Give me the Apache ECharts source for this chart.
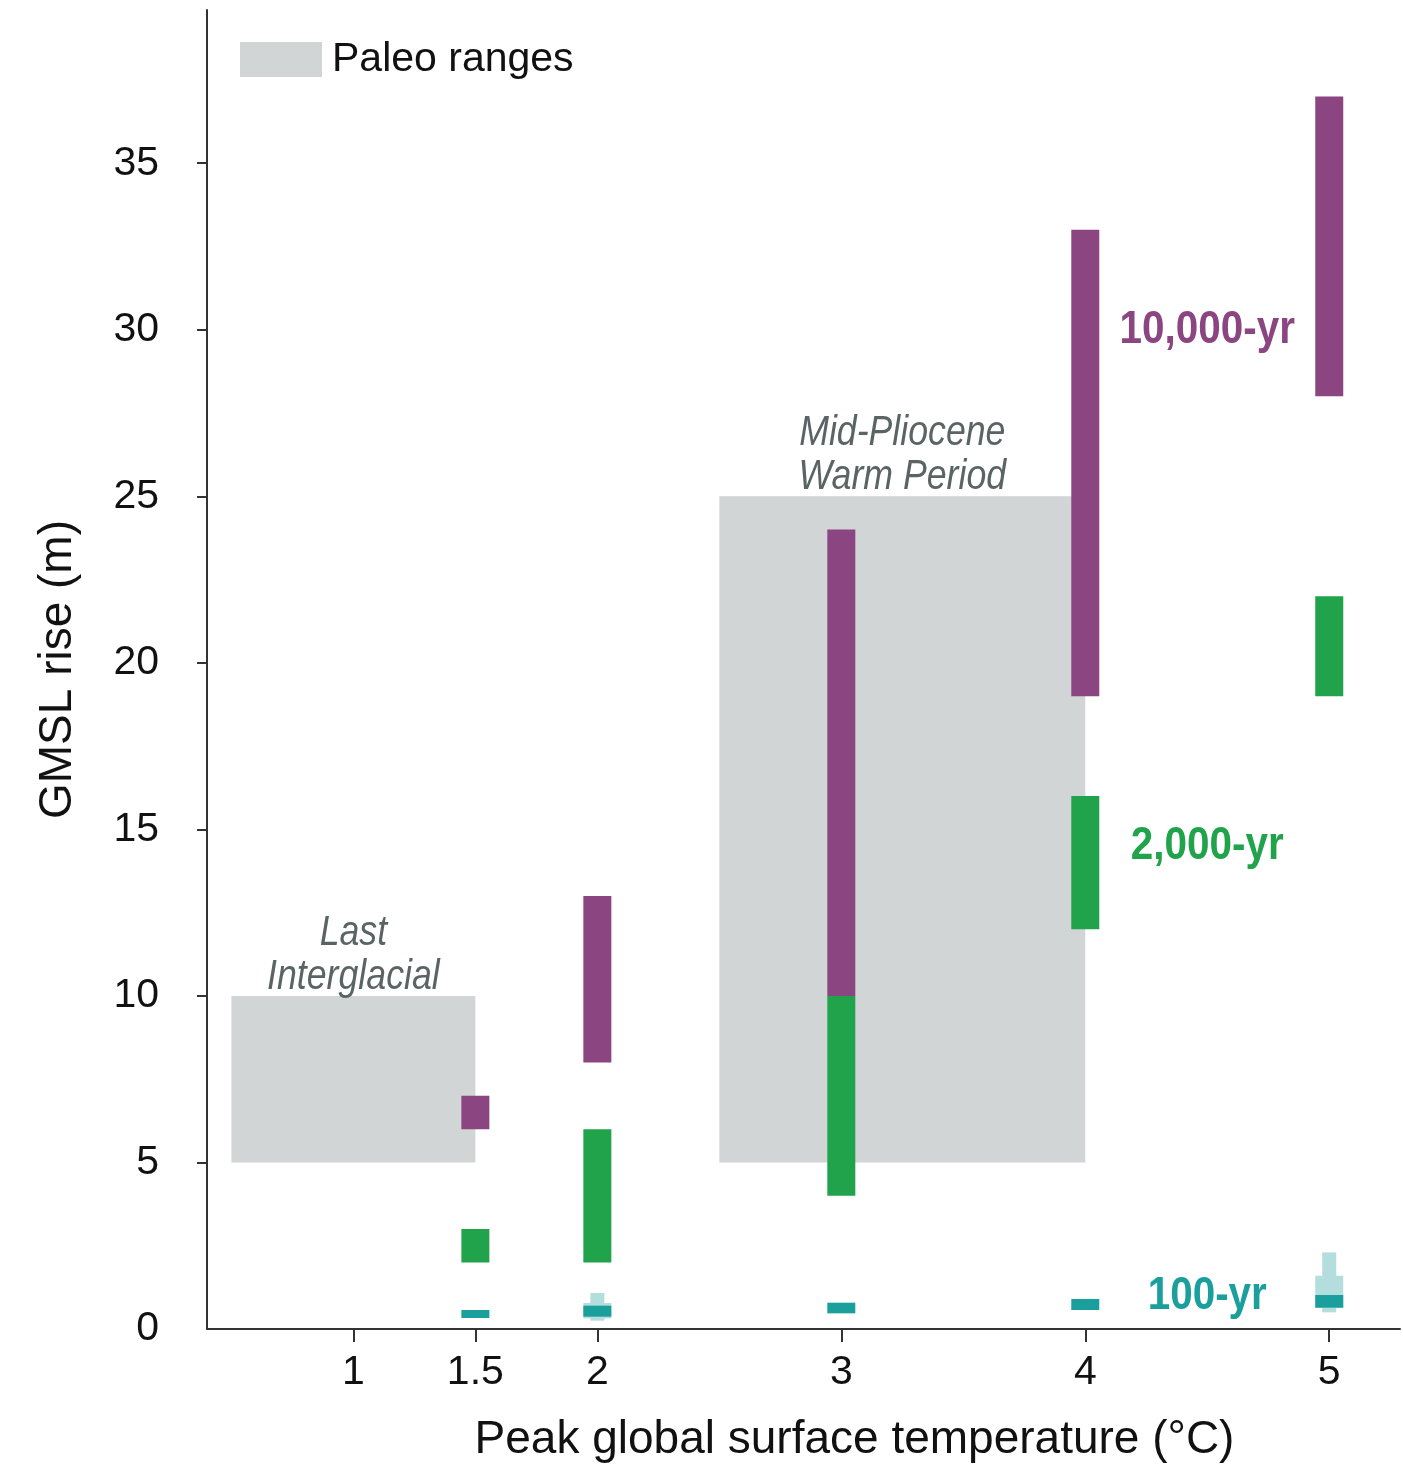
<!DOCTYPE html>
<html>
<head>
<meta charset="utf-8">
<title>GMSL rise vs peak global surface temperature</title>
<script src="https://cdn.jsdelivr.net/npm/echarts@6/dist/echarts.min.js"></script>
<style>
  html, body { margin: 0; padding: 0; background: #ffffff; overflow: hidden; }
  #chart { width: 100vw; height: 100vh; }
</style>
</head>
<body>
<div id="chart"></div>
<script>
// Peak global surface temperature (°C) at which projections are shown
const temps = [1.5, 2, 3, 4, 5];

// GMSL rise ranges (m) [low, high] per temperature
const rise10000yr = [[6, 7], [8, 13], [10, 24], [19, 33], [28, 37]];
const rise2000yr = [[2, 3], [2, 6], [4, 10], [12, 16], [19, 22]];
const rise100yr = [[0.33, 0.57], [0.37, 0.70], [0.47, 0.79], [0.57, 0.90], [0.64, 1.02]];

// Wider uncertainty for the 100-yr horizon (only at 2 and 5 °C)
const wideTemps = [2, 5];
const rise100yrWide = [[0.32, 0.78], [0.63, 1.60]];
const rise100yrOuter = [[0.25, 1.08], [0.50, 2.30]];

// Paleo reference periods
const paleoNames = ['Last\nInterglacial', 'Mid-Pliocene\nWarm Period'];
const paleoTemps = [[0.5, 1.5], [2.5, 4]];
const paleoRise = [[5, 10], [5, 25]];

// Horizon labels: [temperature, GMSL, text]
const horizonLabels = [[4.5, 30.0, '10,000-yr'], [4.5, 14.5, '2,000-yr'], [4.5, 1.0, '100-yr']];

const xTicks = [1, 1.5, 2, 3, 4, 5];
const yLabels = [0, 5, 10, 15, 20, 25, 30, 35];
const yTicks = [5, 10, 15, 20, 25, 30, 35];

const FONT = "'Liberation Sans', Arial, sans-serif";
const PURPLE = '#8b4580';
const GREEN = '#21a34b';
const TEAL = '#1a9f9d';
const TEAL_LIGHT = '#b4dddd';
const PALEO = '#d1d5d6';
const PALEO_TEXT = '#5b6464';
const AXIS = '#333333';
const INK = '#111111';

function rangeData(xs, ranges) {
  return xs.map((t, i) => [t, ranges[i][0], ranges[i][1]]);
}

function rangeBar(color, width) {
  return function (params, api) {
    const top = api.coord([api.value(0), api.value(2)]);
    const bot = api.coord([api.value(0), api.value(1)]);
    return {
      type: 'rect',
      shape: { x: top[0] - width / 2, y: top[1], width: width, height: bot[1] - top[1] },
      style: { fill: color }
    };
  };
}

const chart = echarts.init(document.getElementById('chart'), null, { renderer: 'canvas' });

chart.setOption({
  animation: false,
  backgroundColor: '#ffffff',
  grid: { left: 207, right: 3, top: 10, bottom: 119, containLabel: false },
  legend: {
    left: 240,
    top: 39,
    padding: 0,
    itemWidth: 82,
    itemHeight: 35,
    data: [{ name: 'Paleo ranges', icon: 'rect' }],
    textStyle: { fontFamily: FONT, fontSize: 41, color: INK, padding: [0, 0, 0, 5] },
    selectedMode: false
  },
  xAxis: {
    type: 'value',
    min: 0.4,
    max: 5.29,
    name: 'Peak global surface temperature (°C)',
    nameLocation: 'middle',
    nameGap: 88,
    nameTextStyle: { fontFamily: FONT, fontSize: 46, color: INK, padding: [0, 0, 0, 102] },
    axisLine: { lineStyle: { color: AXIS, width: 2 } },
    axisTick: { customValues: xTicks, length: 13, lineStyle: { color: AXIS, width: 2 } },
    axisLabel: { customValues: xTicks, fontFamily: FONT, fontSize: 41, color: INK, margin: 23 },
    splitLine: { show: false }
  },
  yAxis: {
    type: 'value',
    min: 0,
    max: 39.6,
    interval: 5,
    name: 'GMSL rise (m)',
    nameLocation: 'middle',
    nameRotate: 90,
    nameGap: 126,
    nameTextStyle: { fontFamily: FONT, fontSize: 46, color: INK },
    axisLine: { show: true, lineStyle: { color: AXIS, width: 2 } },
    axisTick: { show: true, customValues: yTicks, length: 10, lineStyle: { color: AXIS, width: 2 } },
    axisLabel: { customValues: yLabels, fontFamily: FONT, fontSize: 41, color: INK, margin: 48 },
    splitLine: { show: false }
  },
  series: [
    {
      name: 'Paleo ranges',
      type: 'custom',
      itemStyle: { color: PALEO },
      z: 1,
      data: paleoNames.map((n, i) => [paleoTemps[i][0], paleoTemps[i][1], paleoRise[i][0], paleoRise[i][1]]),
      renderItem: function (params, api) {
        const tl = api.coord([api.value(0), api.value(3)]);
        const br = api.coord([api.value(1), api.value(2)]);
        return {
          type: 'group',
          children: [
            {
              type: 'rect',
              shape: { x: tl[0], y: tl[1], width: br[0] - tl[0], height: br[1] - tl[1] },
              style: { fill: PALEO }
            },
            {
              type: 'text',
              x: (tl[0] + br[0]) / 2,
              y: tl[1] + 3,
              scaleX: 0.83,
              style: {
                text: paleoNames[params.dataIndex],
                x: 0,
                y: 0,
                align: 'center',
                verticalAlign: 'bottom',
                fontFamily: FONT,
                fontSize: 43,
                fontStyle: 'italic',
                lineHeight: 44,
                fill: PALEO_TEXT
              }
            }
          ]
        };
      }
    },
    {
      name: '10,000-yr',
      type: 'custom',
      z: 3,
      data: rangeData(temps, rise10000yr),
      renderItem: rangeBar(PURPLE, 28)
    },
    {
      name: '2,000-yr',
      type: 'custom',
      z: 3,
      data: rangeData(temps, rise2000yr),
      renderItem: rangeBar(GREEN, 28)
    },
    {
      name: '100-yr outer',
      type: 'custom',
      z: 3,
      data: rangeData(wideTemps, rise100yrOuter),
      renderItem: rangeBar(TEAL_LIGHT, 14)
    },
    {
      name: '100-yr wide',
      type: 'custom',
      z: 4,
      data: rangeData(wideTemps, rise100yrWide),
      renderItem: rangeBar(TEAL_LIGHT, 28)
    },
    {
      name: '100-yr',
      type: 'custom',
      z: 5,
      data: rangeData(temps, rise100yr),
      renderItem: rangeBar(TEAL, 28)
    },
    {
      name: 'horizon labels',
      type: 'custom',
      z: 6,
      data: horizonLabels,
      renderItem: function (params, api) {
        const p = api.coord([api.value(0), api.value(1)]);
        const colors = [PURPLE, GREEN, TEAL];
        return {
          type: 'text',
          x: p[0],
          y: p[1],
          scaleX: 0.86,
          style: {
            text: horizonLabels[params.dataIndex][2],
            x: 0,
            y: 0,
            align: 'center',
            verticalAlign: 'middle',
            fontFamily: FONT,
            fontSize: 47,
            fontWeight: 'bold',
            fill: colors[params.dataIndex]
          }
        };
      }
    }
  ]
});
</script>
</body>
</html>
